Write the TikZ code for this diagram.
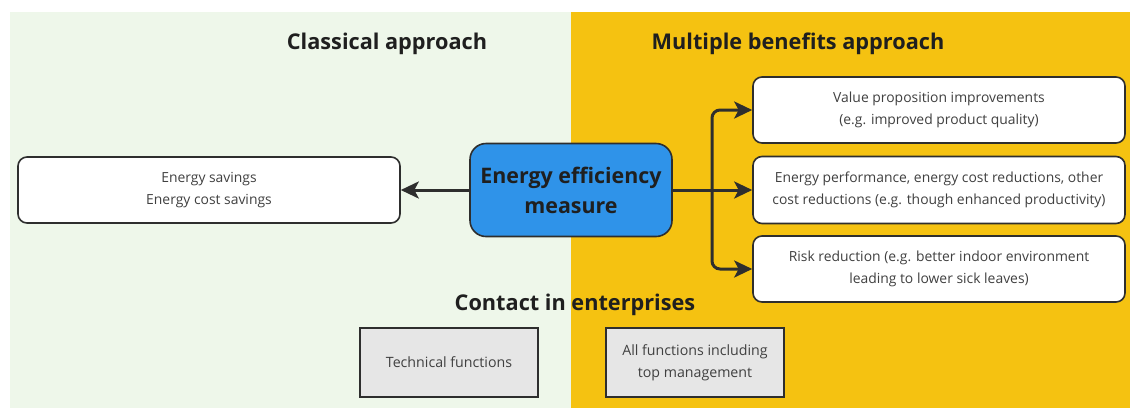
\documentclass[tikz,border=0pt]{standalone}
\usepackage{fontspec}
\setmainfont{Open Sans}
\usetikzlibrary{arrows.meta}
\definecolor{greenbg}{HTML}{EEF7EA}
\definecolor{yellowbg}{HTML}{F5C211}
\definecolor{bluebox}{HTML}{2F93E9}
\definecolor{darkline}{HTML}{2E2E2E}
\definecolor{boxtext}{HTML}{404040}
\definecolor{graybox}{HTML}{E6E6E6}
\begin{document}
\begin{tikzpicture}[x=1pt,y=-1pt,
  titletext/.style={font=\bfseries\fontsize{21.7}{25}\selectfont, text=black!88},
  whitebox/.style={draw=darkline, line width=1.6pt, fill=white, rounded corners=9pt,
    align=center, text=boxtext, font=\fontsize{13.9}{22}\selectfont, inner sep=0pt},
  graybx/.style={draw=darkline, line width=1.6pt, fill=graybox,
    align=center, text=boxtext, font=\fontsize{14.2}{22}\selectfont, inner sep=0pt,
    minimum width=178pt, minimum height=69pt},
  mainbox/.style={draw=darkline, line width=1.6pt, fill=bluebox, rounded corners=16pt,
    align=center, text=black!88, font=\bfseries\fontsize{21.4}{30}\selectfont, inner sep=0pt,
    minimum width=202pt, minimum height=93pt},
  arr/.style={draw=darkline, line width=3pt, -{Stealth[length=18pt,width=17pt,inset=4.5pt]}},
  conn/.style={draw=darkline, line width=3pt}
]
\useasboundingbox (0,0) rectangle (1130,408);
\fill[greenbg] (10,12) rectangle (571,408);
\fill[yellowbg] (571,12) rectangle (1130,408);

\node[titletext] (tc) at (387,44) {Classical approach};
\node[titletext] (tm) at (798,44) {Multiple benefits approach};
\node[titletext] (tce) at (575,305) {Contact in enterprises};

\node[whitebox, minimum width=382pt, minimum height=66pt] (es) at (209,190)
  {Energy savings\\Energy cost savings};
\node[mainbox] (eem) at (571,190) {Energy efficiency\\measure};

\node[whitebox, minimum width=372pt, minimum height=66pt] (vp) at (939,110)
  {Value proposition improvements\\(e.g. improved product quality)};
\node[whitebox, minimum width=372pt, minimum height=67pt] (ep) at (939,190)
  {Energy performance, energy cost reductions, other\\cost reductions (e.g. though enhanced productivity)};
\node[whitebox, minimum width=372pt, minimum height=66pt] (rr) at (939,269)
  {Risk reduction (e.g. better indoor environment\\leading to lower sick leaves)};

\node[graybx] (tf) at (449,362.5) {Technical functions};
\node[graybx] (af) at (695,362.5) {All functions including\\top management};

\coordinate (trunk) at (712,190);
\draw[arr] (eem.west) -- (es.east);
\draw[arr] (eem.east) -- (ep.west);
\draw[arr, rounded corners=8pt] (trunk) |- (vp.west);
\draw[arr, rounded corners=8pt] (trunk) |- (rr.west);
\end{tikzpicture}
\end{document}
